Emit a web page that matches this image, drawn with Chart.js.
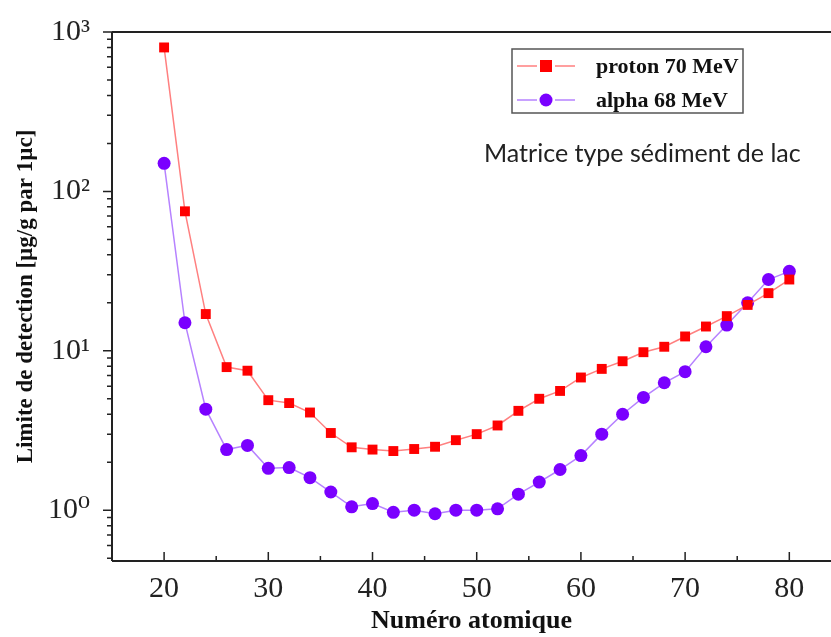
<!DOCTYPE html>
<html>
<head>
<meta charset="utf-8">
<script src="https://cdn.jsdelivr.net/npm/chart.js@4"></script>
<style>
  html, body { margin: 0; padding: 0; background: #fff; }
  #wrap { width: 831px; height: 637px; }
</style>
</head>
<body>
<div id="wrap"><canvas id="chart"></canvas></div>
<script>
// Données
const atomicNumbers = [20, 22, 24, 26, 28, 30, 32, 34, 36, 38, 40, 42, 44, 46, 48, 50,
                       52, 54, 56, 58, 60, 62, 64, 66, 68, 70, 72, 74, 76, 78, 80];
const protonValues = [800, 75, 17, 7.9, 7.5, 4.9, 4.7, 4.1, 3.05, 2.48, 2.4, 2.35, 2.42, 2.5, 2.75, 3.0,
                      3.4, 4.2, 5.0, 5.6, 6.8, 7.7, 8.6, 9.8, 10.6, 12.3, 14.2, 16.5, 19.4, 23, 28];
const alphaValues = [150, 15, 4.3, 2.4, 2.55, 1.83, 1.85, 1.6, 1.3, 1.05, 1.1, 0.97, 1.0, 0.95, 1.0, 1.0,
                     1.02, 1.26, 1.5, 1.8, 2.2, 3.0, 4.0, 5.1, 6.3, 7.4, 10.6, 14.5, 20, 28, 31.5];

const seriesLabels = ["proton 70 MeV", "alpha 68 MeV"];
const annotationText = "Matrice type sédiment de lac";

const xMajorTicks = [20, 30, 40, 50, 60, 70, 80];
const xMinorTicks = [25, 35, 45, 55, 65, 75];
const yMajorTicks = [1, 10, 100, 1000];
const yMinorTicks = [0.5, 0.6, 0.7, 0.8, 0.9, 2, 3, 4, 5, 6, 7, 8, 9,
                     20, 30, 40, 50, 60, 70, 80, 90, 200, 300, 400, 500, 600, 700, 800, 900];
const supers = { 0: "\u2070", 1: "\u00B9", 2: "\u00B2", 3: "\u00B3" };

const serif = "'Liberation Serif', 'DejaVu Serif', serif";

// Cadre, graduations, légende et texte
const decorPlugin = {
    id: "decor",
    afterDraw(chart) {
        const ctx = chart.ctx;
        const a = chart.chartArea;
        const xs = chart.scales.x;
        const ys = chart.scales.y;
        ctx.save();
        ctx.strokeStyle = "#222";
        ctx.lineWidth = 2;
        ctx.beginPath();
        ctx.moveTo(a.left, a.top); ctx.lineTo(a.right + 2, a.top);
        ctx.moveTo(a.left, a.top); ctx.lineTo(a.left, a.bottom);
        ctx.moveTo(a.left, a.bottom); ctx.lineTo(a.right + 2, a.bottom);
        ctx.stroke();

        ctx.lineWidth = 1.5;
        ctx.beginPath();
        xMajorTicks.forEach(v => { const p = xs.getPixelForValue(v); ctx.moveTo(p, a.bottom); ctx.lineTo(p, a.bottom - 9); });
        xMinorTicks.forEach(v => { const p = xs.getPixelForValue(v); ctx.moveTo(p, a.bottom); ctx.lineTo(p, a.bottom - 5); });
        yMajorTicks.forEach(v => { const p = ys.getPixelForValue(v); ctx.moveTo(a.left, p); ctx.lineTo(a.left - 9, p); });
        yMinorTicks.forEach(v => { const p = ys.getPixelForValue(v); ctx.moveTo(a.left, p); ctx.lineTo(a.left - 5, p); });
        ctx.stroke();

        // légende
        ctx.fillStyle = "#fff";
        ctx.fillRect(512, 49, 231, 64);
        ctx.strokeStyle = "#555";
        ctx.lineWidth = 1.5;
        ctx.strokeRect(512, 49, 231, 64);
        const rows = [66, 100];
        chart.data.datasets.forEach((ds, i) => {
            const yy = rows[i];
            ctx.strokeStyle = ds.borderColor;
            ctx.lineWidth = 1.5;
            ctx.beginPath();
            ctx.moveTo(517, yy); ctx.lineTo(537, yy);
            ctx.moveTo(555, yy); ctx.lineTo(575, yy);
            ctx.stroke();
            ctx.fillStyle = ds.pointBackgroundColor;
            if (ds.pointStyle === "rect") {
                ctx.fillRect(540, yy - 6, 12, 12);
            } else {
                ctx.beginPath(); ctx.arc(546, yy, 6.5, 0, Math.PI * 2); ctx.fill();
            }
            ctx.fillStyle = "#111";
            ctx.font = "bold 22px " + serif;
            ctx.textBaseline = "middle";
            ctx.fillText(ds.label, 596, yy + 1);
        });

        ctx.fillStyle = "#222";
        ctx.font = "25px Lato, 'Open Sans', sans-serif";
        ctx.textBaseline = "middle";
        ctx.fillText(annotationText, 484, 154);
        ctx.restore();
    }
};

new Chart(document.getElementById("chart"), {
    type: "line",
    data: {
        datasets: [{
            label: seriesLabels[0],
            data: atomicNumbers.map((z, i) => ({ x: z, y: protonValues[i] })),
            borderColor: "#ff8080",
            borderWidth: 1.5,
            pointStyle: "rect",
            pointRadius: 7,
            pointBackgroundColor: "#ff0000",
            pointBorderColor: "#ff0000",
            pointBorderWidth: 0
        }, {
            label: seriesLabels[1],
            data: atomicNumbers.map((z, i) => ({ x: z, y: alphaValues[i] })),
            borderColor: "#b682ff",
            borderWidth: 1.5,
            pointStyle: "circle",
            pointRadius: 6.5,
            pointBackgroundColor: "#7a00ff",
            pointBorderColor: "#7a00ff",
            pointBorderWidth: 0
        }]
    },
    options: {
        responsive: true,
        maintainAspectRatio: false,
        animation: false,
        layout: { padding: { top: 29, right: 0, left: 0, bottom: 0 }, autoPadding: false },
        plugins: { legend: { display: false }, tooltip: { enabled: false } },
        scales: {
            x: {
                type: "linear",
                min: 15,
                max: 84,
                afterBuildTicks: s => { s.ticks = xMajorTicks.map(v => ({ value: v })); },
                afterFit: s => { s.height = 76; },
                grid: { display: false },
                border: { display: false },
                ticks: { color: "#222", font: { family: serif, size: 30 }, padding: 2, maxRotation: 0 },
                title: { display: true, text: "Numéro atomique", color: "#111",
                         font: { family: serif, size: 26, weight: "bold" }, padding: { top: 0, bottom: 0 } }
            },
            y: {
                type: "logarithmic",
                min: 0.48,
                max: 1000,
                afterBuildTicks: s => { s.ticks = yMajorTicks.map(v => ({ value: v })); },
                afterFit: s => { s.width = 112; },
                grid: { display: false },
                border: { display: false },
                ticks: {
                    color: "#222", font: { family: serif, size: 30 }, padding: 14,
                    callback: v => "10" + supers[Math.round(Math.log10(v))]
                },
                title: { display: true, text: "Limite de detection [µg/g par 1µc]", color: "#111",
                         font: { family: serif, size: 23, weight: "bold" }, padding: { top: 12, bottom: 0 } }
            }
        }
    },
    plugins: [decorPlugin]
});
</script>
</body>
</html>
